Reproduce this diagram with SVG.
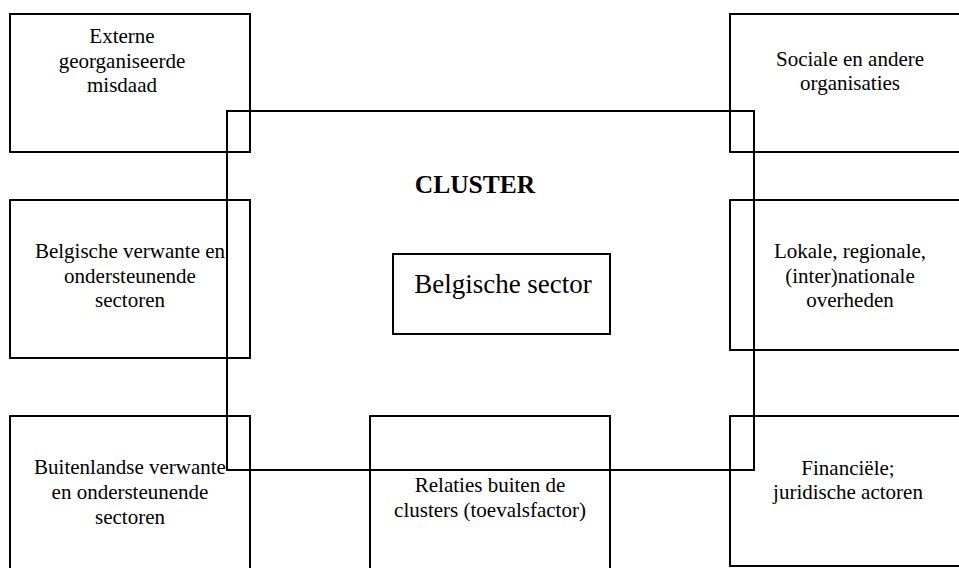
<svg xmlns="http://www.w3.org/2000/svg" width="959" height="568" viewBox="0 0 959 568">
<style>
rect { fill: none; stroke: #000; stroke-width: 2; }
text { font-size: 21px; fill: #000; text-anchor: middle; }
.title { font-weight: bold; font-size: 25.5px; }
.big { font-size: 27px; }
</style>
<rect x="0" y="0" width="959" height="568" style="fill:#fff;stroke:none"/>
<g font-family="Liberation Serif, Tinos, Times New Roman, DejaVu Serif, serif">
<g id="cluster">
  <rect x="227" y="111" width="527" height="359"/>
  <text class="title" x="475" y="193">CLUSTER</text>
</g>
<g id="externe">
  <rect x="10" y="14" width="240" height="138"/>
  <text x="122" y="43">Externe</text>
  <text x="122" y="68">georganiseerde</text>
  <text x="122" y="92">misdaad</text>
</g>
<g id="sociale">
  <rect x="730" y="14" width="240" height="138"/>
  <text x="850" y="66">Sociale en andere</text>
  <text x="850" y="90">organisaties</text>
</g>
<g id="belg-verwant">
  <rect x="10" y="200" width="240" height="158"/>
  <text x="130" y="258">Belgische verwante en</text>
  <text x="130" y="283">ondersteunende</text>
  <text x="130" y="307">sectoren</text>
</g>
<g id="overheden">
  <rect x="730" y="200" width="240" height="150"/>
  <text x="850" y="258">Lokale, regionale,</text>
  <text x="850" y="283">(inter)nationale</text>
  <text x="850" y="307">overheden</text>
</g>
<g id="belg-sector">
  <rect x="393" y="254" width="217" height="80"/>
  <text class="big" x="503" y="293">Belgische sector</text>
</g>
<g id="buitenland">
  <rect x="10" y="416" width="240" height="170"/>
  <text x="130" y="474">Buitenlandse verwante</text>
  <text x="130" y="499">en ondersteunende</text>
  <text x="130" y="524">sectoren</text>
</g>
<g id="relaties">
  <rect x="370" y="416" width="240" height="170"/>
  <text x="490" y="492">Relaties buiten de</text>
  <text x="490" y="517">clusters (toevalsfactor)</text>
</g>
<g id="financieel">
  <rect x="730" y="416" width="240" height="150"/>
  <text x="848" y="475">Financiële;</text>
  <text x="848" y="499">juridische actoren</text>
</g>
</g>
<g id="connectors"></g>
</svg>
